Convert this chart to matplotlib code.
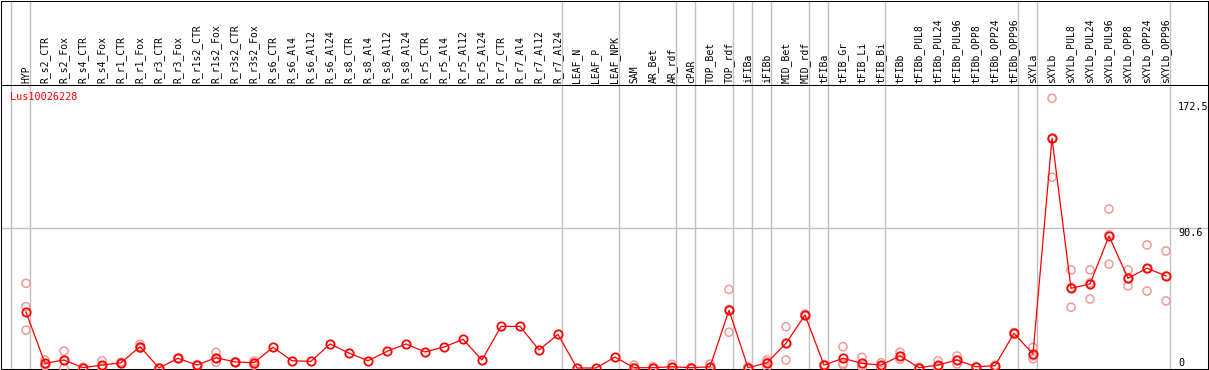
"""Expression profile of Lus10026228 across tissues / treatments (mean + replicates)."""
import matplotlib
matplotlib.use("Agg")
import matplotlib.pyplot as plt

GENE = "Lus10026228"

SAMPLES = [
    "HYP",
    "R_s2_CTR", "R_s2_Fox", "R_s4_CTR", "R_s4_Fox", "R_r1_CTR", "R_r1_Fox",
    "R_r3_CTR", "R_r3_Fox", "R_r1s2_CTR", "R_r1s2_Fox", "R_r3s2_CTR", "R_r3s2_Fox",
    "R_s6_CTR", "R_s6_Al4", "R_s6_Al12", "R_s6_Al24",
    "R_s8_CTR", "R_s8_Al4", "R_s8_Al12", "R_s8_Al24",
    "R_r5_CTR", "R_r5_Al4", "R_r5_Al12", "R_r5_Al24",
    "R_r7_CTR", "R_r7_Al4", "R_r7_Al12", "R_r7_Al24",
    "LEAF_N", "LEAF_P", "LEAF_NPK",
    "SAM", "AR_Bet", "AR_rdf",
    "cPAR",
    "TOP_Bet", "TOP_rdf",
    "iFIBa",
    "iFIBb",
    "MID_Bet", "MID_rdf",
    "tFIBa",
    "tFIB_Gr", "tFIB_Li", "tFIB_Bi",
    "tFIBb", "tFIBb_PUL8", "tFIBb_PUL24", "tFIBb_PUL96",
    "tFIBb_OPP8", "tFIBb_OPP24", "tFIBb_OPP96",
    "sXYLa",
    "sXYLb", "sXYLb_PUL8", "sXYLb_PUL24", "sXYLb_PUL96",
    "sXYLb_OPP8", "sXYLb_OPP24", "sXYLb_OPP96",
]

# samples per group (gray separators between groups)
GROUP_SIZES = [1, 28, 3, 3, 1, 2, 1, 1, 2, 1, 3, 7, 1, 7]

MEAN_EXPR = [
    36.3,
    3.0, 5.2, 0.2, 1.9, 3.4, 13.8, 0.0, 6.3, 1.9, 6.7, 3.9, 3.4,
    13.4, 4.7, 4.3, 15.6,
    9.7, 4.7, 10.8, 15.6,
    10.4, 13.6, 18.6, 5.2,
    27.0, 27.0, 11.7, 21.8,
    0.0, 0.0, 7.1,
    0.2, 0.2, 0.8,
    0.2,
    0.8, 37.4,
    0.2,
    3.4,
    16.0, 34.4,
    1.9,
    6.3, 3.0, 1.9,
    7.8, 0.2, 1.9, 5.2, 0.8, 1.5, 22.5,
    9.1,
    149.0, 51.7, 54.5, 85.6, 58.2, 64.7, 59.7,
]

REPLICATES = [
    [54.9, 39.8, 24.6],
    [5.2, 2.0, 1.5], [11.0, 5.0, 0.0], [0.5, 0.2, 0.0], [4.7, 1.0, 0.0],
    [3.8, 3.4, 2.6], [15.4, 13.8, 12.8], [0.0, 0.0, 0.0], [6.5, 6.3, 6.0],
    [2.0, 1.9, 1.7], [10.2, 6.5, 3.7], [4.0, 3.9, 3.8], [4.5, 3.4, 1.9],
    [], [], [], [],
    [], [], [], [],
    [], [], [], [],
    [], [], [], [],
    [], [], [],
    [1.9, 0.2, 0.0], [0.8, 0.2, 0.0], [2.4, 0.5, 0.0],
    [0.3, 0.2, 0.0],
    [2.6, 0.3, 0.0], [51.0, 37.9, 23.2],
    [0.8, 0.2, 0.0],
    [5.2, 3.8, 0.8],
    [26.8, 16.0, 5.2], [35.0, 34.4, 33.8],
    [2.2, 1.9, 1.6],
    [13.8, 3.0, 2.2], [6.9, 1.3, 0.8], [3.4, 1.5, 0.8],
    [10.2, 7.6, 5.6], [0.4, 0.2, 0.0], [4.7, 1.0, 0.0], [7.8, 5.2, 2.6],
    [1.0, 0.8, 0.6], [1.7, 1.5, 1.3], [23.0, 22.5, 22.0],
    [13.4, 7.9, 6.0],
    [174.9, 148.4, 123.7], [63.6, 52.1, 39.4], [63.6, 55.2, 44.7],
    [103.1, 86.3, 67.4], [63.6, 57.8, 53.2], [79.8, 64.4, 49.9],
    [75.9, 59.7, 43.5],
]

YTICKS = [0, 90.6, 172.5]
GRID_VALUE = 90.6

# pixel layout of the reference (1209 x 370)
W_PX, H_PX, DPI = 1209, 370, 100
COL0_PX, COL_STEP_PX = 26, 19      # x of first sample, spacing
ZERO_PX, PX_PER_UNIT = 368, 1.542  # y pixel of value 0, pixels per unit
HEADER_PX = 85                     # header separator line
BOX_L, BOX_R, BOX_T, BOX_B = 0.5, 1207.5, 0.5, 369

GRAY = "#c0c0c0"
PINK = "#f09a9a"


def px_to_x(px):
    return (px - COL0_PX) / COL_STEP_PX


def px_to_y(px):
    return (ZERO_PX - px) / PX_PER_UNIT


def main():
    fig = plt.figure(figsize=(W_PX / DPI, H_PX / DPI), dpi=DPI)
    ax = fig.add_axes([BOX_L / W_PX, (H_PX - BOX_B) / H_PX,
                       (BOX_R - BOX_L) / W_PX, (BOX_B - BOX_T) / H_PX])
    ax.set_xlim(px_to_x(BOX_L), px_to_x(BOX_R))
    ax.set_ylim(px_to_y(BOX_B), px_to_y(BOX_T))
    ax.set_xticks([])
    ax.set_yticks([])
    for s in ax.spines.values():
        s.set_linewidth(0.75)
        s.set_color("black")

    xs = list(range(len(SAMPLES)))

    # group separators
    sep_off = 4 / COL_STEP_PX
    ax.axvline(-1 + sep_off, color=GRAY, lw=1.0, zorder=1)
    last = -1
    for n in GROUP_SIZES:
        last += n
        ax.axvline(last + sep_off, color=GRAY, lw=1.0, zorder=1)

    ax.axhline(GRID_VALUE, color=GRAY, lw=1.0, zorder=1)
    ax.axhline(px_to_y(HEADER_PX), color="black", lw=0.75, zorder=2)

    # replicates
    rx = [x for x, reps in zip(xs, REPLICATES) for _ in reps]
    ry = [v for reps in REPLICATES for v in reps]
    ax.scatter(rx, ry, s=34, facecolors="none", edgecolors=PINK,
               linewidths=1.1, zorder=3, clip_on=False)

    # mean profile
    ax.plot(xs, MEAN_EXPR, color="red", lw=0.9, marker="o", ms=6,
            mfc="none", mec="red", mew=1.3, zorder=4, clip_on=False)

    # column headers
    label_y = px_to_y(83)
    for x, name in zip(xs, SAMPLES):
        ax.text(x, label_y, name, rotation=90, ha="center", va="bottom",
                fontsize=7, family="DejaVu Sans Mono", color="black")

    ax.text(px_to_x(10), px_to_y(97), GENE, ha="left", va="center",
            fontsize=7.3, family="DejaVu Sans Mono", color="red")

    # value labels on the right
    tick_x = px_to_x(1178)
    for v in YTICKS:
        ax.text(tick_x, v, f"{v:g}", ha="left", va="bottom" if v == 0 else "top",
                fontsize=7.3, family="DejaVu Sans Mono", color="black")

    fig.savefig("out.png", dpi=DPI)
    plt.close(fig)


if __name__ == "__main__":
    main()
